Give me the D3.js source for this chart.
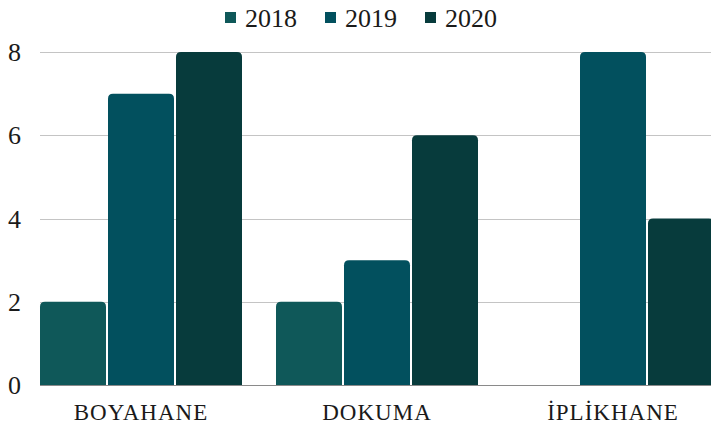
<!DOCTYPE html>
<html>
<head>
<meta charset="utf-8">
<script src="https://cdn.jsdelivr.net/npm/d3@7"></script>
<style>
  body { margin: 0; background: #fff; }
  svg text { font-family: "Liberation Serif", serif; fill: #1a1a1a; }
</style>
</head>
<body>
<div id="container"></div>
<script>
// data
const categories = ["BOYAHANE", "DOKUMA", "İPLİKHANE"];
const years = ["2018", "2019", "2020"];
const values2018 = [2, 2, 0];
const values2019 = [7, 3, 8];
const values2020 = [8, 6, 4];
const yTicks = [0, 2, 4, 6, 8];
const colors = ["#0f5859", "#02505e", "#073b3c"];

const series = [values2018, values2019, values2020];

const width = 711;
const height = 430;
const plotLeft = 40;
const plotTop = 52;
const plotBottom = 385;

const svg = d3
  .select("#container")
  .append("svg")
  .attr("width", width)
  .attr("height", height);

// scales
const x0 = d3.scaleBand().domain(categories).range([plotLeft, plotLeft + 3 * 236]).padding(0);
const x1 = d3.scaleBand().domain(years).range([0, 202]).paddingInner(2 / 68).paddingOuter(0);
const y = d3.scaleLinear().domain([0, 8]).range([plotBottom, plotTop]);

// gridlines
svg
  .append("g")
  .selectAll("line")
  .data(yTicks.filter((d) => d > 0))
  .enter()
  .append("line")
  .attr("x1", plotLeft)
  .attr("x2", width)
  .attr("y1", (d) => Math.round(y(d)) + 0.5)
  .attr("y2", (d) => Math.round(y(d)) + 0.5)
  .attr("stroke", "#c4c4c4")
  .attr("stroke-width", 1);

// y tick labels
svg
  .append("g")
  .selectAll("text")
  .data(yTicks)
  .enter()
  .append("text")
  .attr("x", 21)
  .attr("y", (d) => y(d))
  .attr("dy", "0.35em")
  .attr("text-anchor", "end")
  .style("font-size", "26px")
  .text((d) => d);

// rounded-top bar path
function barPath(x, yTop, w, h) {
  const r = Math.min(5, h / 2, w / 2);
  if (h <= 0) return "";
  return `M${x},${yTop + h}V${yTop + r}Q${x},${yTop} ${x + r},${yTop}H${x + w - r}Q${x + w},${yTop} ${x + w},${yTop + r}V${yTop + h}Z`;
}

const groups = svg
  .append("g")
  .selectAll("g")
  .data(categories)
  .enter()
  .append("g")
  .attr("transform", (d) => `translate(${x0(d)},0)`);

groups
  .selectAll("path")
  .data((c, ci) => years.map((yr, si) => ({ yr, si, v: series[si][ci] })))
  .enter()
  .append("path")
  .attr("d", (d) => barPath(x1(d.yr), y(d.v), x1.bandwidth(), y(0) - y(d.v)))
  .attr("fill", (d) => colors[d.si]);

// baseline
svg
  .append("line")
  .attr("x1", plotLeft)
  .attr("x2", width)
  .attr("y1", plotBottom + 0.5)
  .attr("y2", plotBottom + 0.5)
  .attr("stroke", "#8a8a8a")
  .attr("stroke-width", 1);

// category labels
svg
  .append("g")
  .selectAll("text")
  .data(categories)
  .enter()
  .append("text")
  .attr("x", (d) => x0(d) + 101)
  .attr("y", 420)
  .attr("text-anchor", "middle")
  .style("font-size", "23px")
  .style("letter-spacing", "1px")
  .text((d) => d);

// legend
const legendX = [225, 325, 425];
const legend = svg
  .append("g")
  .selectAll("g")
  .data(years)
  .enter()
  .append("g")
  .attr("transform", (d, i) => `translate(${legendX[i]},0)`);

legend
  .append("rect")
  .attr("x", 0)
  .attr("y", 12)
  .attr("width", 11)
  .attr("height", 11)
  .attr("fill", (d, i) => colors[i]);

legend
  .append("text")
  .attr("x", 20)
  .attr("y", 17.5)
  .attr("dy", "0.35em")
  .style("font-size", "26px")
  .text((d) => d);
</script>
</body>
</html>
